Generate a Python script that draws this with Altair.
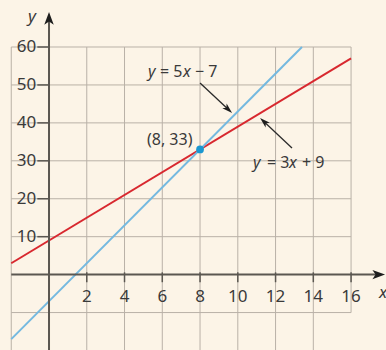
import math
import altair as alt
import pandas as pd

# Equations of the two lines: y = m*x + b
red_m, red_b = 3, 9
blue_m, blue_b = 5, -7

# Intersection point
pt_x, pt_y = 8, 33

# Axis ticks and grid positions
x_ticks = [2, 4, 6, 8, 10, 12, 14, 16]
y_ticks = [10, 20, 30, 40, 50, 60]
grid_x = [-2, 0, 2, 4, 6, 8, 10, 12, 14, 16]
grid_y = [-10, 10, 20, 30, 40, 50, 60]

X_LO, X_HI = -2.596, 17.85
Y_LO, Y_HI = -19.87, 72.39
GRID_LEFT, GRID_RIGHT, GRID_TOP = -2, 16, 60

BG = "#fcf4e7"
GRID = "#b9b1a7"
AXIS = "#5b5751"
TEXT = "#3a3a3a"
RED = "#d8282f"
BLUE = "#74b9e0"
DOT = "#1a97d0"
FONT = "Noto Sans"

xs = alt.Scale(domain=[X_LO, X_HI], nice=False, zero=False)
ys = alt.Scale(domain=[Y_LO, Y_HI], nice=False, zero=False)


def X(f):
    return alt.X(f, type="quantitative", scale=xs, axis=None)


def Y(f):
    return alt.Y(f, type="quantitative", scale=ys, axis=None)


# Grid
vgrid = pd.DataFrame({
    "x": grid_x,
    "y": [Y_LO if g < GRID_RIGHT else -10 for g in grid_x],
    "y2": [GRID_TOP] * len(grid_x),
})
hgrid = pd.DataFrame({"y": grid_y, "x": [GRID_LEFT] * len(grid_y), "x2": [GRID_RIGHT] * len(grid_y)})

grid_v = alt.Chart(vgrid).mark_rule(color=GRID, strokeWidth=1).encode(
    x=X("x"), y=Y("y"), y2="y2")
grid_h = alt.Chart(hgrid).mark_rule(color=GRID, strokeWidth=1).encode(
    y=Y("y"), x=X("x"), x2="x2")

# Lines
blue_end = (GRID_TOP - blue_b) / blue_m
lines = pd.DataFrame({
    "x": [GRID_LEFT, GRID_RIGHT, GRID_LEFT, blue_end],
    "y": [red_m * GRID_LEFT + red_b, red_m * GRID_RIGHT + red_b,
          blue_m * GRID_LEFT + blue_b, blue_m * blue_end + blue_b],
    "s": ["red", "red", "blue", "blue"],
})
line_marks = alt.Chart(lines).mark_line(strokeWidth=2, clip=True).encode(
    x=X("x"), y=Y("y"), detail="s:N",
    color=alt.Color("s:N", scale=alt.Scale(domain=["red", "blue"], range=[RED, BLUE]), legend=None),
)

# Axes
one = pd.DataFrame({"k": [0]})
AXIS_ARROW = "M0,0L0.75,2L0,1.5L-0.75,2Z"
PTR_ARROW = "M0,0L0.6,2L0,1.5L-0.6,2Z"
y_tip, x_tip = 69.2, 17.8

x_axis = alt.Chart(one).mark_rule(color=AXIS, strokeWidth=2).encode(
    y=alt.Y(datum=0, type="quantitative", scale=ys, axis=None),
    x=alt.X(datum=GRID_LEFT, type="quantitative", scale=xs, axis=None),
    x2=alt.X2(datum=x_tip - 0.4))
y_axis = alt.Chart(one).mark_rule(color=AXIS, strokeWidth=2).encode(
    x=alt.X(datum=0, type="quantitative", scale=xs, axis=None),
    y=alt.Y(datum=Y_LO, type="quantitative", scale=ys, axis=None),
    y2=alt.Y2(datum=y_tip - 2))
y_head = alt.Chart(one).mark_point(shape=AXIS_ARROW, filled=True, color="#1e1e1e", opacity=1, size=160, angle=0).encode(
    x=alt.X(datum=0, type="quantitative", scale=xs, axis=None),
    y=alt.Y(datum=y_tip, type="quantitative", scale=ys, axis=None))
x_head = alt.Chart(one).mark_point(shape=AXIS_ARROW, filled=True, color="#1e1e1e", opacity=1, size=160, angle=90).encode(
    x=alt.X(datum=x_tip, type="quantitative", scale=xs, axis=None),
    y=alt.Y(datum=0, type="quantitative", scale=ys, axis=None))

yt = pd.DataFrame({"y": y_ticks, "x": [-0.62] * len(y_ticks), "x2": [0] * len(y_ticks)})
xt = pd.DataFrame({"x": x_ticks, "y": [0.6] * len(x_ticks), "y2": [-2.0] * len(x_ticks)})
y_tickmarks = alt.Chart(yt).mark_rule(color=AXIS, strokeWidth=1.5).encode(y=Y("y"), x=X("x"), x2="x2")
x_tickmarks = alt.Chart(xt).mark_rule(color=AXIS, strokeWidth=1.5).encode(x=X("x"), y=Y("y"), y2="y2")

ylab = pd.DataFrame({"y": y_ticks, "x": [-0.68] * len(y_ticks), "t": [str(v) for v in y_ticks]})
xlab = pd.DataFrame({"x": x_ticks, "y": [-5.8] * len(x_ticks), "t": [str(v) for v in x_ticks]})
y_labels = alt.Chart(ylab).mark_text(align="right", baseline="middle", font=FONT, fontSize=17, color=TEXT).encode(
    x=X("x"), y=Y("y"), text="t:N")
x_labels = alt.Chart(xlab).mark_text(align="center", baseline="middle", font=FONT, fontSize=17, color=TEXT).encode(
    x=X("x"), y=Y("y"), text="t:N")


def text_at(txt, x, y, dx=0, italic=False, align="left", size=16):
    return alt.Chart(one).mark_text(
        text=txt, align=align, baseline="middle", dx=dx, font=FONT, fontSize=size,
        fontStyle="italic" if italic else "normal", color=TEXT,
    ).encode(
        x=alt.X(datum=x, type="quantitative", scale=xs, axis=None),
        y=alt.Y(datum=y, type="quantitative", scale=ys, axis=None),
    )


axis_names = [text_at("y", -0.9, 67.9, italic=True, align="center", size=17),
              text_at("x", 17.7, -4.9, italic=True, align="center", size=17)]

# Equation labels, with italic variables
eq1 = [text_at("y", 5.245, 53.4, 0, True), text_at("= 5", 5.245, 53.4, 12),
       text_at("x", 5.245, 53.4, 35, True), text_at("\u2212 7", 5.245, 53.4, 47)]
eq2 = [text_at("y", 10.8, 29.4, 0, True), text_at("= 3", 10.8, 29.4, 14),
       text_at("x", 10.8, 29.4, 36, True), text_at("+ 9", 10.8, 29.4, 49)]
pt_label = text_at(f"({pt_x}, {pt_y})", 7.6, 35.5, align="right")

# Pointer arrows from labels to lines
PX_X = 386 / (X_HI - X_LO)
PX_Y = 350 / (Y_HI - Y_LO)
pointers = [((8.0, 50.5), (9.70, 42.6)), ((12.87, 33.4), (11.18, 41.3))]
arrow_layers = []
for (sx, sy), (tx, ty) in pointers:
    ang = math.degrees(math.atan2((tx - sx) * PX_X, (ty - sy) * PX_Y)) % 360
    arrow_layers.append(alt.Chart(one).mark_rule(color="#2a2a2a", strokeWidth=1.3).encode(
        x=alt.X(datum=sx, type="quantitative", scale=xs, axis=None),
        y=alt.Y(datum=sy, type="quantitative", scale=ys, axis=None),
        x2=alt.X2(datum=sx + (tx - sx) * 0.85), y2=alt.Y2(datum=sy + (ty - sy) * 0.85)))
    arrow_layers.append(alt.Chart(one).mark_point(shape=PTR_ARROW, filled=True, color="#1e1e1e", opacity=1,
                                                  size=110, angle=round(ang, 1)).encode(
        x=alt.X(datum=tx, type="quantitative", scale=xs, axis=None),
        y=alt.Y(datum=ty, type="quantitative", scale=ys, axis=None)))

dot = alt.Chart(pd.DataFrame({"x": [pt_x], "y": [pt_y]})).mark_point(
    filled=True, color=DOT, opacity=1, size=60).encode(x=X("x"), y=Y("y"))

chart = alt.layer(
    grid_v, grid_h, line_marks, x_axis, y_axis, x_tickmarks, y_tickmarks, y_head, x_head,
    y_labels, x_labels, *axis_names, *eq1, *eq2, pt_label, *arrow_layers, dot,
).properties(
    width=386, height=350, background=BG, padding=0,
    autosize=alt.AutoSizeParams(type="none"),
).configure_view(stroke=None)

chart.save("out.html", embed_options={"renderer": "svg", "actions": False})
